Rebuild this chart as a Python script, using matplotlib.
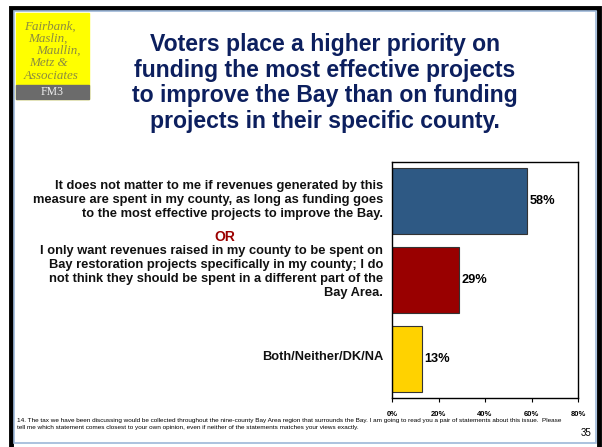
import matplotlib
matplotlib.use("Agg")
from matplotlib import pyplot as plt
from matplotlib.patches import Rectangle

plt.rcParams["font.family"] = ["Liberation Sans", "DejaVu Sans"]

# Данные диаграммы
categories = [
    "It does not matter to me if revenues generated by this\n"
    "measure are spent in my county, as long as funding goes\n"
    "to the most effective projects to improve the Bay.",
    "I only want revenues raised in my county to be spent on\n"
    "Bay restoration projects specifically in my county; I do\n"
    "not think they should be spent in a different part of the\n"
    "Bay Area.",
    "Both/Neither/DK/NA",
]
values = [58, 29, 13]
value_labels = ["58%", "29%", "13%"]
colors = ["#2e5984", "#990000", "#ffd200"]
x_ticks = [0, 20, 40, 60, 80]
x_tick_labels = ["0%", "20%", "40%", "60%", "80%"]

title = ("Voters place a higher priority on\n"
         "funding the most effective projects\n"
         "to improve the Bay than on funding\n"
         "projects in their specific county.")
logo_lines = ["Fairbank,", "Maslin,", "Maullin,", "Metz &", "Associates"]
footnote = ("14. The tax we have been discussing would be collected throughout "
            "the nine-county Bay Area region that surrounds the Bay. I am going "
            "to read you a pair of statements about this issue.  Please\n"
            "tell me which statement comes closest to your own opinion, even if "
            "neither of the statements matches your views exactly.")
page_no = "35"

W, H = 602, 447
fig = plt.figure(figsize=(W / 100, H / 100), dpi=100)


def fx(px):
    return px / W


def fy(py):
    return 1 - py / H


# Рамка слайда
fig.patches.append(Rectangle((fx(11), fy(470)), fx(588), 462 / H,
                             transform=fig.transFigure, fill=False,
                             edgecolor="black", linewidth=3.5))
fig.patches.append(Rectangle((fx(14), fy(443)), fx(582), 432 / H,
                             transform=fig.transFigure, fill=False,
                             edgecolor="#9db7d8", linewidth=1.2))

# Логотип
fig.patches.append(Rectangle((fx(16), fy(99)), fx(73), 86 / H,
                             transform=fig.transFigure, color="#ffff00"))
fig.patches.append(Rectangle((fx(16), fy(99)), fx(73), 14 / H,
                             transform=fig.transFigure, color="#6b6b6b"))
logo_x = [24, 28, 36, 29, 24]
logo_y = [27, 39, 51, 63, 76]
for txt, lx, ly in zip(logo_lines, logo_x, logo_y):
    fig.text(fx(lx), fy(ly), txt, family="Liberation Serif", style="italic",
             fontsize=9.4, color="#8c8c40", va="center", ha="left")
fig.text(fx(52), fy(92), "FM3", family="Liberation Serif",
         fontsize=8.5, color="#f0f0f0", va="center", ha="center")

# Заголовок
fig.text(fx(325), fy(83), title, fontsize=16.6, fontweight="bold",
         color="#0c1f5e", ha="center", va="center", linespacing=1.16)

# Диаграмма
ax = fig.add_axes([fx(392), fy(398), fx(578 - 392), (398 - 162) / H])
pos = list(range(len(values)))
bars = ax.barh(pos, values, height=0.84, color=colors,
               edgecolor="#333333", linewidth=0.8)
ax.set_ylim(len(values) - 0.5, -0.5)
ax.set_xlim(0, 80)
ax.set_yticks(pos, [])
ax.tick_params(axis="y", length=0)
ax.set_xticks(x_ticks, x_tick_labels)
ax.tick_params(axis="x", length=3, width=0.8, pad=6, labelsize=5.5)
for lbl in ax.get_xticklabels():
    lbl.set_fontweight("bold")
for sp in ax.spines.values():
    sp.set_linewidth(1.0)
    sp.set_color("black")

for p, v, lab in zip(pos, values, value_labels):
    ax.text(v + 1, p, lab, fontsize=9.2, fontweight="bold",
            va="center", ha="left")

# Подписи категорий
cat_y = [200, 272, 357]
for txt, cy in zip(categories, cat_y):
    fig.text(fx(383), fy(cy), txt, fontsize=9.3, fontweight="bold",
             ha="right", va="center", linespacing=1.22, color="#111111")
fig.text(fx(225), fy(237), "OR", fontsize=10, fontweight="bold",
         color="#9b0000", ha="center", va="center")

# Сноска
fig.text(fx(17), fy(424), footnote, fontsize=4.55, ha="left", va="center",
         linespacing=1.3)
fig.text(fx(591), fy(433), page_no, fontsize=7, ha="right", va="center")

fig.savefig("out.png", dpi=100)
